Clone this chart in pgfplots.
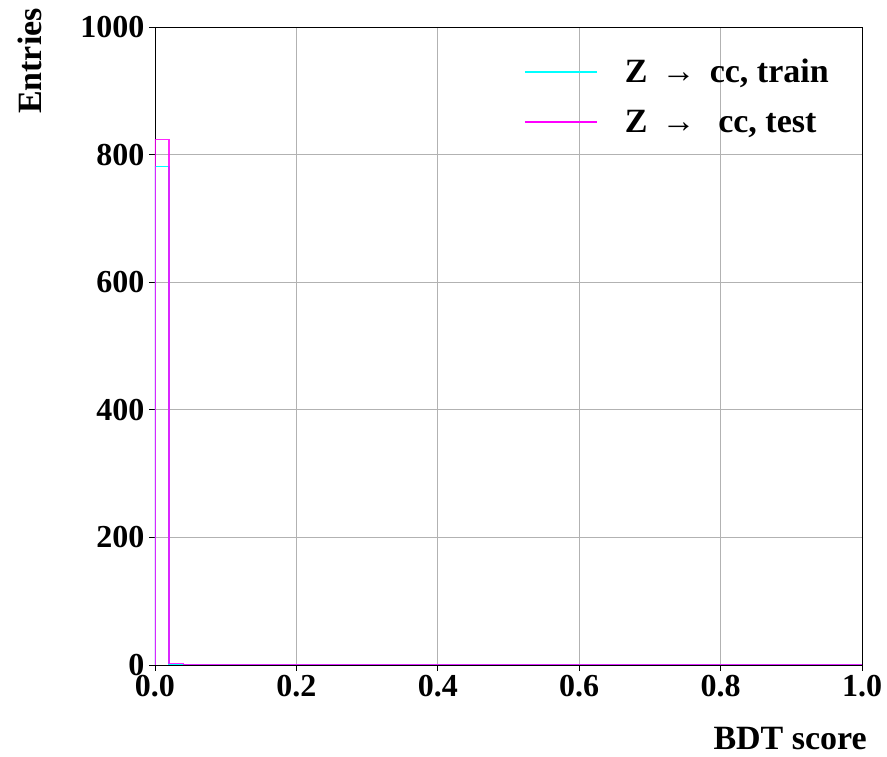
\documentclass[border=0pt]{standalone}
\usepackage{fontspec}
\setmainfont{Liberation Serif}
\usepackage{pgfplots}
\pgfplotsset{compat=1.18}
\definecolor{mplcyan}{RGB}{0,255,255}
\definecolor{mplmag}{RGB}{255,0,255}
\begin{document}
\begin{tikzpicture}
\begin{axis}[
  scale only axis,
  width=707pt, height=638pt,
  xmin=0, xmax=1, ymin=0, ymax=1000,
  xtick={0,0.2,0.4,0.6,0.8,1.0},
  ytick={0,200,400,600,800,1000},
  xtick pos=bottom, ytick pos=left,
  xticklabel style={/pgf/number format/fixed,/pgf/number format/fixed zerofill,/pgf/number format/precision=1},
  /pgf/number format/1000 sep={},
  /pgf/number format/assume math mode=true,
  tick label style={font=\fontsize{32}{38}\selectfont\bfseries},
  yticklabel style={xshift=-1pt},
  xticklabel style={yshift=-1pt},
  tick align=outside,
  major tick length=6pt,
  tick style={black, line width=0.9pt},
  axis line style={black, line width=0.9pt},
  grid=major,
  grid style={color=black!30, line width=0.9pt},
  xlabel={BDT score},
  ylabel={Entries},
  label style={font=\fontsize{34}{40}\selectfont\bfseries, inner sep=0pt},
  xlabel style={at={(axis description cs:1,0)}, anchor=base east, xshift=5pt, yshift=-85pt},
  ylabel style={at={(axis description cs:0,1)}, anchor=south east, xshift=19pt, yshift=113pt},
  legend style={draw=none, fill=none, at={(axis description cs:0.973,0.953)}, anchor=north east,
    font=\fontsize{34}{40}\selectfont\bfseries, row sep=22pt, inner sep=0pt},
  legend cell align=left,
  legend image code/.code={\path[draw=none,fill=none] (0pt,0pt) -- (86pt,0pt);\draw[#1, line width=2pt] (0pt,0pt) -- (72pt,0pt);},
  legend style={nodes={inner xsep=14pt}},
]
\coordinate (O) at (rel axis cs:0,0);
\addplot[mplcyan, line width=1.3pt, forget plot] coordinates {(0,0) (0,781) (0.02,781) (0.02,0) (1,0) (1,0)};
\addplot[mplmag, line width=1.3pt, opacity=0.85, forget plot] coordinates {(0,0) (0,824) (0.02,824) (0.02,2.5) (0.04,2.5) (0.04,0) (1,0)};
\addlegendimage{mplcyan}
\addlegendentry{Z\ \,→\ \,cc, train}
\addlegendimage{mplmag}
\addlegendentry{Z\ \,→\ \ \,cc, test}
\end{axis}
\path (O) ++(-155pt,-92pt) rectangle ++(887pt,757pt);
\end{tikzpicture}
\end{document}
